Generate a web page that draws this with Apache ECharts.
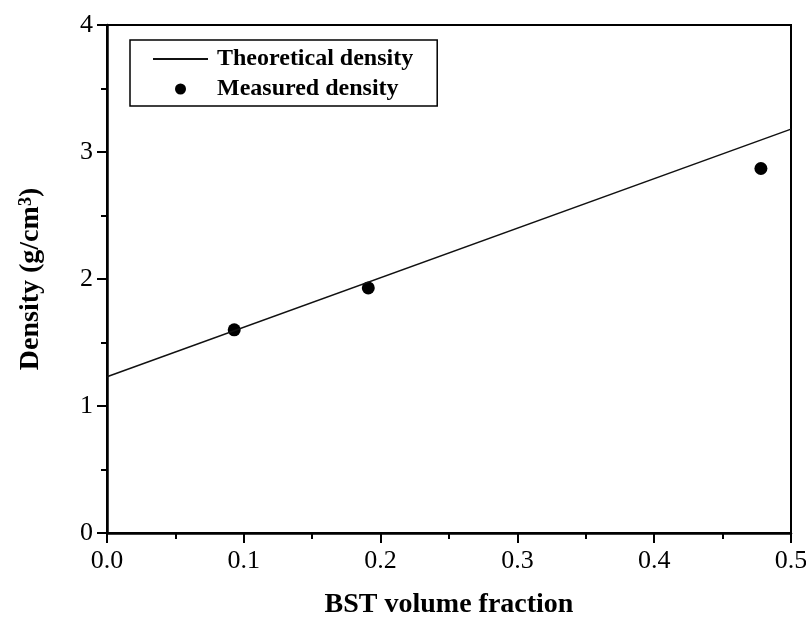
<!DOCTYPE html>
<html>
<head>
<meta charset="utf-8">
<script src="https://cdn.jsdelivr.net/npm/echarts@6/dist/echarts.min.js"></script>
<style>
  html, body { margin: 0; padding: 0; background: #fff; }
  #chart { width: 806px; height: 621px; }
</style>
</head>
<body>
<div id="chart"></div>
<script>
// theoretical density line (rule of mixtures), end points
const theoryX = [0, 0.5];
const theoryY = [1.23, 3.18];
// measured densities
const measuredX = [0.093, 0.191, 0.478];
const measuredY = [1.60, 1.93, 2.87];

const xTicks = { min: 0, max: 0.5, step: 0.1 };
const yTicks = { min: 0, max: 4, step: 1 };

const font = '"Liberation Serif", "Times New Roman", serif';

const chart = echarts.init(document.getElementById('chart'));

const option = {
    backgroundColor: '#ffffff',
    animation: false,
    textStyle: { fontFamily: font, color: '#000' },
    grid: {
        left: 107, right: 15, top: 25, bottom: 88,
        show: true, borderColor: '#000', borderWidth: 2,
        containLabel: false,
        outerBoundsMode: 'none'
    },
    legend: {
        orient: 'vertical',
        left: 130, top: 40,
        padding: [7, 24, 5, 22],
        itemGap: 6,
        itemWidth: 55,
        itemHeight: 11,
        borderColor: '#000',
        borderWidth: 1.5,
        textStyle: { fontFamily: font, fontWeight: 'bold', fontSize: 24, color: '#000', padding: [0, 0, 0, 4] },
        data: [
            { name: 'Theoretical density', itemStyle: { opacity: 0 } },
            { name: 'Measured density', icon: 'circle' }
        ]
    },
    xAxis: {
        type: 'value',
        min: xTicks.min, max: xTicks.max, interval: xTicks.step,
        name: 'BST volume fraction',
        nameLocation: 'middle',
        nameGap: 58,
        nameTextStyle: { fontFamily: font, fontWeight: 'bold', fontSize: 28, color: '#000' },
        axisLine: { lineStyle: { color: '#000', width: 2.5 } },
        axisTick: { inside: false, length: 10, lineStyle: { color: '#000', width: 2 } },
        minorTick: { show: true, splitNumber: 2, length: 6, lineStyle: { color: '#000', width: 2 } },
        splitLine: { show: false },
        axisLabel: {
            fontFamily: font, fontSize: 26, color: '#000', margin: 15,
            formatter: v => v.toFixed(1)
        }
    },
    yAxis: {
        type: 'value',
        min: yTicks.min, max: yTicks.max, interval: yTicks.step,
        name: 'Density (g/cm{sup|3})',
        nameLocation: 'middle',
        nameGap: 62,
        nameTextStyle: {
            fontFamily: font, fontWeight: 'bold', fontSize: 28, color: '#000',
            rich: {
                sup: { fontFamily: font, fontWeight: 'bold', fontSize: 18, color: '#000', verticalAlign: 'top', lineHeight: 28, padding: [0, 0, 12, 0] }
            }
        },
        axisLine: { lineStyle: { color: '#000', width: 2.5 } },
        axisTick: { inside: false, length: 10, lineStyle: { color: '#000', width: 2 } },
        minorTick: { show: true, splitNumber: 2, length: 6, lineStyle: { color: '#000', width: 2 } },
        splitLine: { show: false },
        axisLabel: { fontFamily: font, fontSize: 26, color: '#000', margin: 14 }
    },
    series: [
        {
            name: 'Theoretical density',
            type: 'line',
            data: theoryX.map((x, i) => [x, theoryY[i]]),
            symbol: 'none',
            lineStyle: { color: '#111', width: 1.5 },
            itemStyle: { color: '#111' }
        },
        {
            name: 'Measured density',
            type: 'scatter',
            data: measuredX.map((x, i) => [x, measuredY[i]]),
            symbol: 'circle',
            symbolSize: 13,
            itemStyle: { color: '#000', opacity: 1 }
        }
    ]
};

chart.setOption(option);
</script>
</body>
</html>
